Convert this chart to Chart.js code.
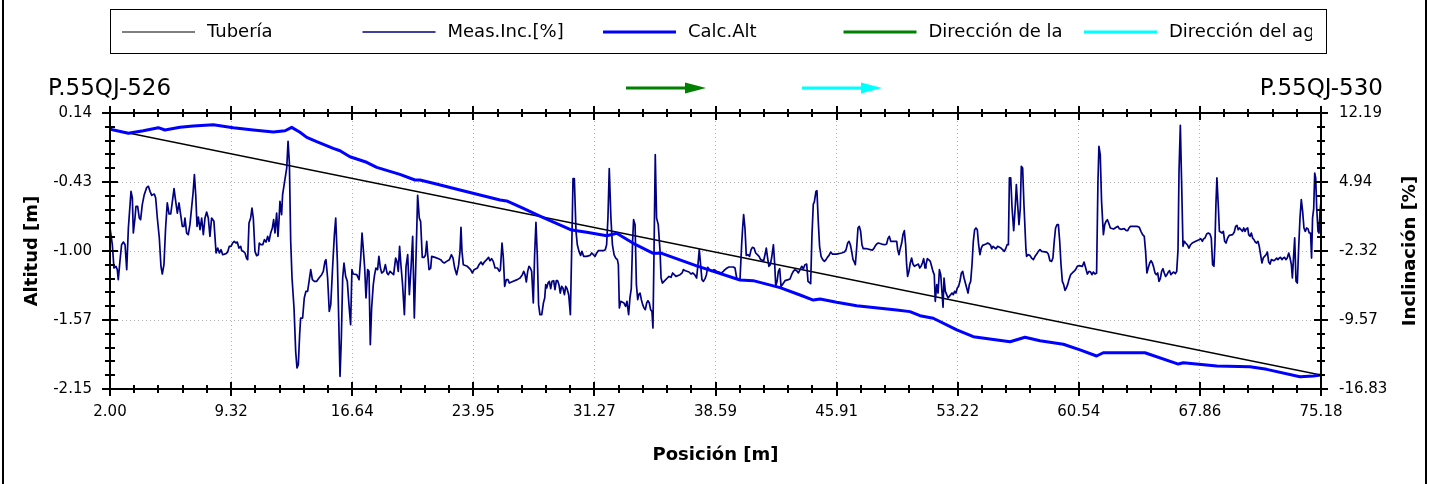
<!DOCTYPE html>
<html>
<head>
<meta charset="utf-8">
<title>Perfil de tubería</title>
<script src="https://cdn.jsdelivr.net/npm/chart.js"></script>
<style>
  body { margin: 0; background: #fff; }
  canvas { display: block; }
</style>
</head>
<body>
<canvas id="perfilChart" width="1434" height="484"></canvas>
<script>
// etiquetas de los ejes
const posTicks = ['2.00', '9.32', '16.64', '23.95', '31.27', '38.59', '45.91', '53.22', '60.54', '67.86', '75.18'];
const altTicks = ['-2.15', '-1.57', '-1.00', '-0.43', '0.14'];
const incTicks = ['-16.83', '-9.57', '-2.32', '4.94', '12.19'];

// tubería (recta entre pozos)
const tuberiaPos = [2.00, 75.18];
const tuberiaAlt = [0.005, -2.034];

// altitud calculada [m]
const altPos = [2.00, 3.11, 4.01, 4.92, 5.32, 6.23, 7.03, 8.24, 9.45, 10.66, 11.87, 12.58, 12.98, 13.48, 13.89, 14.49, 15.49, 15.90, 16.50, 17.51,
  18.12, 19.52, 20.43, 20.73, 21.54, 23.15, 24.36, 25.57, 25.97, 26.98, 27.98, 29.90, 30.81, 32.02, 32.62, 33.62, 34.83, 35.34, 37.45, 40.07,
  40.87, 42.49, 43.70, 44.50, 44.91, 45.91, 47.12, 49.54, 50.34, 50.95, 51.75, 53.17, 54.17, 56.39, 57.29, 58.20, 59.61, 60.62, 61.62, 62.02,
  64.54, 66.56, 66.86, 68.88, 70.89, 71.90, 73.91, 74.72, 75.18];
const altCalc = [0.005, -0.028, -0.007, 0.018, -0.001, 0.021, 0.032, 0.043, 0.018, -0.001, -0.018, -0.007, 0.021, -0.020, -0.062, -0.098, -0.153, -0.173, -0.223, -0.269,
  -0.311, -0.369, -0.416, -0.416, -0.443, -0.499, -0.540, -0.582, -0.590, -0.651, -0.715, -0.831, -0.850, -0.878, -0.858, -0.941, -1.024, -1.024, -1.129, -1.246,
  -1.251, -1.309, -1.370, -1.412, -1.403, -1.431, -1.459, -1.494, -1.508, -1.542, -1.563, -1.660, -1.716, -1.758, -1.721, -1.749, -1.779, -1.826, -1.876, -1.849,
  -1.849, -1.943, -1.932, -1.959, -1.965, -1.987, -2.048, -2.042, -2.034];

// inclinación medida [%]
const incPos = [
  2.00, 2.14, 2.24, 2.36, 2.44, 2.50, 2.60, 2.70, 2.81, 2.91, 3.01, 3.11, 3.27, 3.35, 3.41, 3.51, 3.57, 3.67, 3.77, 3.85,
  3.95, 4.07, 4.22, 4.32, 4.42, 4.52, 4.68, 4.76, 4.86, 4.98, 5.08, 5.16, 5.26, 5.36, 5.46, 5.57, 5.67, 5.77, 5.87, 5.97,
  6.07, 6.17, 6.27, 6.37, 6.47, 6.53, 6.63, 6.73, 6.83, 6.93, 7.02, 7.10, 7.18, 7.26, 7.34, 7.44, 7.54, 7.64, 7.74, 7.84,
  7.94, 8.04, 8.14, 8.28, 8.41, 8.51, 8.61, 8.71, 8.81, 9.01, 9.11, 9.21, 9.31, 9.41, 9.51, 9.61, 9.69, 9.79, 9.90, 9.96,
  10.06, 10.16, 10.26, 10.32, 10.40, 10.50, 10.58, 10.66, 10.76, 10.86, 10.96, 11.02, 11.12, 11.23, 11.33, 11.43, 11.53, 11.61, 11.71, 11.81,
  11.89, 11.97, 12.07, 12.15, 12.21, 12.27, 12.37, 12.43, 12.57, 12.68, 12.76, 12.84, 12.92, 13.00, 13.12, 13.22, 13.30, 13.38, 13.46, 13.52,
  13.64, 13.74, 13.84, 13.94, 14.03, 14.13, 14.23, 14.35, 14.49, 14.63, 14.79, 14.89, 14.99, 15.05, 15.15, 15.25, 15.34, 15.46, 15.56, 15.64,
  15.74, 15.82, 15.90, 15.98, 16.06, 16.14, 16.24, 16.34, 16.44, 16.54, 16.62, 16.70, 16.91, 17.05, 17.15, 17.23, 17.31, 17.39, 17.47, 17.57,
  17.65, 17.73, 17.81, 17.91, 17.99, 18.07, 18.17, 18.25, 18.34, 18.42, 18.54, 18.64, 18.74, 18.82, 18.92, 19.02, 19.14, 19.26, 19.34, 19.42,
  19.50, 19.58, 19.68, 19.79, 19.89, 19.99, 20.09, 20.19, 20.29, 20.39,
  20.53, 20.59, 20.69, 20.77, 20.87, 20.97, 21.06, 21.14, 21.20, 21.28, 21.38, 21.44, 21.64, 21.86, 21.98, 22.10, 22.20, 22.34, 22.51, 22.63,
  22.73, 22.83, 22.95, 23.07, 23.15, 23.21, 23.27, 23.35, 23.59, 23.79, 23.90, 24.00, 24.20, 24.30, 24.42, 24.52, 24.62, 24.76, 24.88, 24.96,
  25.06, 25.16, 25.27, 25.41, 25.53, 25.59, 25.69, 25.77, 25.85, 25.95, 26.05, 26.13, 26.37, 26.61, 26.78, 26.92, 27.00, 27.08, 27.16, 27.24,
  27.32, 27.40, 27.48, 27.58, 27.66, 27.74, 27.82, 27.90, 27.98, 28.09, 28.19, 28.27, 28.33, 28.39, 28.47, 28.55, 28.63, 28.71, 28.81, 28.89,
  28.97, 29.05, 29.13, 29.21, 29.29, 29.37, 29.46, 29.54, 29.62, 29.72, 29.82, 29.92, 29.98, 30.06, 30.16, 30.24, 30.34, 30.44, 30.52, 30.62,
  30.80, 31.01, 31.11, 31.21, 31.31, 31.41, 31.51, 31.81, 31.93, 32.01, 32.09, 32.17, 32.27, 32.36, 32.46, 32.56, 32.66, 32.72, 32.78, 32.86,
  33.06, 33.16, 33.24, 33.34, 33.42, 33.50, 33.58, 33.64, 33.73, 33.81, 33.89, 33.95, 34.03, 34.11, 34.19, 34.27, 34.35, 34.43, 34.51, 34.59,
  34.67, 34.75, 34.81, 34.87, 34.95, 35.03, 35.13, 35.24, 35.30, 35.38, 35.48, 35.68, 35.78, 35.90, 36.00, 36.10, 36.20, 36.45, 36.57, 36.65,
  36.77, 36.99, 37.11, 37.21, 37.33, 37.45, 37.53, 37.61, 37.69, 37.77, 37.86, 37.96, 38.04, 38.12, 38.22, 38.36, 38.50, 38.66,
  38.96, 39.06, 39.16, 39.29, 39.41, 39.67, 39.77, 39.87, 39.97, 40.07, 40.17, 40.23, 40.29, 40.37, 40.45, 40.55, 40.65, 40.74, 40.82, 40.92,
  41.02, 41.12, 41.22, 41.32, 41.50, 41.58, 41.66, 41.74, 41.82, 41.90, 41.98, 42.09, 42.17, 42.23, 42.31, 42.39, 42.47, 42.55, 42.63, 42.79,
  42.99, 43.09, 43.19, 43.29, 43.39, 43.50, 43.60, 43.70, 43.80, 43.90, 44.00, 44.10, 44.18, 44.34, 44.42, 44.50, 44.56, 44.66, 44.72, 44.80,
  44.88, 44.97, 45.07, 45.17, 45.27, 45.35, 45.45, 45.55, 45.65, 45.91, 46.21, 46.38, 46.48, 46.58, 46.66, 46.74, 46.82, 46.90, 46.96, 47.04,
  47.12, 47.20, 47.28, 47.36, 47.44, 47.52, 47.72, 47.95, 48.07, 48.15, 48.23, 48.33, 48.43, 48.63, 48.83, 48.93, 49.01, 49.09, 49.18, 49.36,
  49.54, 49.60, 49.68, 49.74, 49.84, 49.92, 50.00, 50.08, 50.14, 50.20, 50.28, 50.36, 50.44, 50.52, 50.61, 50.77, 50.85, 50.93, 51.01, 51.09,
  51.17, 51.25, 51.31, 51.39, 51.47, 51.57, 51.65, 51.73, 51.81, 51.87, 51.96, 52.04, 52.12, 52.20, 52.28, 52.34, 52.40, 52.48, 52.56, 52.64,
  52.72, 52.88, 52.96, 53.04, 53.12, 53.20, 53.28, 53.36, 53.45, 53.53, 53.61, 53.69, 53.77, 53.85, 53.93, 54.01, 54.09, 54.17, 54.25, 54.33,
  54.41, 54.49, 54.57, 54.65, 54.73, 54.94, 55.04, 55.14, 55.22, 55.28, 55.36, 55.54, 55.64, 55.84, 55.94, 56.04, 56.12, 56.21, 56.29, 56.35,
  56.43, 56.51, 56.61, 56.71, 56.77, 56.85, 56.93, 57.01, 57.07, 57.15, 57.23,
  57.35, 57.39, 57.49, 57.59, 57.69, 57.80, 57.90, 58.00, 58.10, 58.20, 58.30, 58.60, 58.70, 58.80, 58.90, 58.98, 59.06, 59.14, 59.23, 59.31,
  59.39, 59.47, 59.55, 59.63, 59.71, 59.79, 59.87, 59.95, 60.05, 60.15, 60.25, 60.35, 60.45, 60.56, 60.76, 60.86, 60.96, 61.06, 61.16, 61.26,
  61.34, 61.42, 61.52, 61.62, 61.70, 61.76, 61.84, 61.92, 62.03, 62.11, 62.19, 62.27, 62.35, 62.45, 62.65, 62.83, 62.91, 62.99, 63.09, 63.29,
  63.40, 63.50, 63.58, 63.66, 64.06, 64.20, 64.30, 64.40, 64.50, 64.58, 64.66, 64.74, 64.83, 64.91, 64.99, 65.07, 65.15, 65.23, 65.31, 65.39,
  65.47, 65.55, 65.63, 65.71, 65.79, 65.87, 65.95, 66.03, 66.11, 66.20, 66.28, 66.38, 66.46, 66.54, 66.60, 66.68, 66.76, 66.84, 66.92, 67.00,
  67.10, 67.20, 67.30, 67.40, 67.61, 67.81, 67.91, 68.01, 68.09, 68.17, 68.27, 68.37, 68.47, 68.55, 68.63, 68.71, 68.77, 68.83, 68.89, 68.98,
  69.04, 69.20, 69.28, 69.36, 69.44, 69.54, 69.64, 69.84, 69.94, 70.02, 70.10, 70.18, 70.26, 70.35, 70.43, 70.51, 70.59, 70.67, 70.75, 70.81,
  70.89, 70.97, 71.05, 71.13, 71.21, 71.29, 71.37, 71.45, 71.53, 71.61, 71.69, 71.77, 71.86, 71.94, 72.02, 72.10, 72.18, 72.34, 72.42, 72.50,
  72.58, 72.66, 72.74, 72.82, 72.90, 72.98, 73.06, 73.14, 73.23, 73.31, 73.39, 73.45, 73.53, 73.59, 73.67, 73.75, 73.83, 73.91, 73.99, 74.07,
  74.15, 74.23, 74.31, 74.39, 74.47, 74.55, 74.61, 74.67, 74.74, 74.80, 74.86, 74.92, 75.00, 75.06, 75.12, 75.18
];
const incMeas = [
  0.10, -1.66, -4.11, -3.93, -4.28, -5.33, -3.41, -1.66, -1.38, -1.66, -4.28, 0.10, 3.95, 3.25, -0.43, 1.15, 2.38, 2.38, 1.15, 0.97,
  2.55, 3.60, 4.37, 4.48, 3.95, 3.53, 3.67, 3.25, 1.15, -0.95, -3.93, -4.74, -3.76, 0.10, 2.73, 1.57, 1.57, 2.90, 4.23, 2.90,
  1.67, 2.73, 1.50, 0.27, 0.27, 1.15, -0.43, -0.60, 0.45, 2.20, 3.78, 5.71, 3.60, 0.27, 1.25, -0.08, 1.15, -0.60, 1.15, 1.78,
  1.15, -0.78, 1.15, 0.80, -2.53, -2.01, -2.53, -2.18, -2.71, -2.60, -2.43, -1.83, -1.83, -1.48, -1.30, -1.48, -1.38, -2.01, -1.83, -2.29,
  -2.36, -2.53, -3.13, -3.23, 0.62, 1.15, 2.20, 1.15, -2.36, -2.81, -2.71, -1.48, -1.66, -1.66, -1.13, -1.38, -0.78, -1.30, -0.43, 0.10,
  0.97, -0.43, 1.67, -0.78, 0.80, 2.90, 1.50, 3.60, 5.18, 6.41, 9.21, 6.93, -1.30, -5.16, -8.31, -12.87, -14.62, -14.27, -11.12, -9.37,
  -9.37, -7.26, -6.56, -6.56, -5.51, -4.28, -5.33, -5.51, -5.51, -5.16, -4.81, -4.46, -3.41, -3.23, -5.16, -8.67, -7.96, -3.76, -0.60, 1.15,
  -3.41, -9.37, -15.50, -11.47, -5.16, -3.58, -4.99, -5.51, -7.96, -10.07, -4.28, -4.74, -4.81, -5.33, -3.06, -0.43, -2.18, -4.11, -7.26, -4.28,
  -4.46, -12.17, -8.31, -5.86, -4.81, -4.11, -4.28, -2.88, -4.11, -4.63, -4.46, -3.76, -4.63, -4.81, -4.46, -4.63, -4.81, -3.06, -3.41, -4.46,
  -1.83, -3.76, -5.86, -9.02, -3.93, -2.71, -6.91, -4.11, -0.78, -9.37,
  -0.60, 3.53, 1.15, 0.80, -2.99, -2.99, -2.78, -1.30, -2.71, -4.28, -4.11, -2.88, -2.99, -3.13, -3.23, -3.48, -3.58, -3.41, -3.23, -2.71,
  -3.06, -4.11, -4.81, -3.76, -2.36, 0.17, -2.36, -3.76, -3.93, -4.28, -4.63, -4.28, -4.11, -3.76, -3.48, -3.76, -3.48, -3.23, -2.99, -3.34,
  -3.13, -3.41, -4.11, -4.11, -4.46, -4.28, -1.48, -3.06, -6.04, -5.33, -5.33, -5.69, -5.51, -5.33, -5.16, -4.81, -4.46, -4.81, -5.58, -4.46,
  -3.93, -4.11, -4.46, -7.79, -2.71, 0.69, -2.71, -7.96, -9.02, -9.02, -7.79, -7.26, -5.86, -6.21, -5.69, -5.51, -6.28, -5.51, -5.44, -6.39,
  -5.44, -5.44, -5.86, -6.74, -6.04, -6.21, -6.91, -6.04, -6.28, -6.91, -9.02, -0.43, 5.28, 5.28, -0.25, -1.66, -2.36, -2.78, -2.36, -2.88,
  -2.88, -2.78, -2.53, -2.71, -2.88, -2.53, -2.29, -2.29, -2.18, -1.66, 1.15, 6.34, 1.15, -1.66, -2.71, -3.06, -3.23, -3.76, -8.31, -7.61,
  -7.79, -8.14, -7.61, -9.02, -7.26, -6.28, -1.30, 0.97, 0.45, -5.86, -7.44, -6.91, -6.74, -7.44, -7.96, -8.31, -8.49, -7.79, -7.54, -7.79,
  -8.49, -8.67, -10.42, -3.06, 7.81, 1.15, 0.45, -2.36, -5.16, -5.69, -5.51, -5.16, -4.99, -5.09, -4.63, -4.81, -4.99, -4.81, -4.63, -4.28,
  -4.39, -4.53, -4.74, -4.63, -4.81, -5.16, -3.76, -2.18, -3.76, -5.33, -5.51, -5.23, -4.81, -4.04, -4.28, -4.46, -4.28, -4.46,
  -4.63, -4.46, -4.28, -4.11, -4.00, -4.00, -4.11, -5.16, -5.33, -5.33, -1.66, 0.10, 1.50, 0.10, -2.78, -2.71, -2.88, -2.18, -1.94, -2.01,
  -2.53, -2.71, -2.88, -3.23, -3.34, -2.71, -2.01, -3.06, -3.93, -3.76, -3.06, -1.66, -3.76, -6.04, -5.51, -4.46, -4.18, -6.04, -5.86, -5.44,
  -5.33, -5.26, -4.81, -4.46, -4.28, -4.39, -4.63, -4.28, -3.93, -4.18, -3.76, -3.69, -5.51, -5.76, -0.60, 2.62, 2.83, 3.95, 4.02, 0.80,
  -1.83, -2.88, -3.23, -3.41, -3.23, -2.99, -2.78, -2.43, -2.64, -2.64, -2.53, -2.43, -2.18, -1.48, -1.30, -1.66, -2.36, -3.23, -3.41, -3.76,
  -2.01, 0.10, 0.27, -0.25, -1.66, -2.08, -2.08, -2.18, -2.22, -2.08, -1.83, -1.59, -1.48, -1.59, -1.66, -1.59, -1.02, -0.78, -1.30, -1.30,
  -1.30, -2.18, -2.71, -2.18, -1.48, -0.60, -0.18, -1.66, -3.76, -4.99, -4.46, -3.58, -3.06, -3.69, -3.93, -3.76, -3.69, -4.11, -3.93, -3.58,
  -3.13, -4.11, -3.76, -3.13, -3.23, -3.41, -3.93, -4.46, -4.81, -7.61, -5.86, -6.74, -4.28, -4.81, -6.74, -8.24, -5.16, -6.56, -6.91, -7.26,
  -7.09, -6.74, -6.91, -6.56, -6.74, -6.21, -6.04, -5.51, -4.63, -4.46, -5.16, -5.69, -6.21, -6.74, -5.86, -5.51, -3.76, -1.30, -0.08, 0.10,
  -0.08, -1.66, -2.71, -2.01, -1.73, -1.59, -1.48, -1.59, -1.73, -2.08, -1.83, -2.08, -1.83, -2.01, -2.18, -2.36, -2.11, -1.66, -1.66, 5.36,
  5.36, 2.20, -0.18, 2.55, 4.65, 2.55, 0.45, 2.20, 6.58, 6.41, 2.55,
  -2.18, -2.88, -2.71, -2.78, -3.06, -3.23, -2.88, -2.64, -2.36, -2.18, -2.36, -2.43, -2.64, -3.34, -3.41, -3.06, -1.30, 0.10, 0.45, 0.45,
  -1.30, -3.76, -5.51, -5.86, -6.46, -6.21, -5.86, -5.33, -4.81, -4.63, -4.46, -4.28, -3.93, -3.86, -3.93, -3.48, -4.11, -4.74, -4.46, -4.53,
  -4.81, -4.53, -4.74, -4.63, 4.83, 8.68, 7.81, 2.90, -0.60, 0.45, 0.80, 0.97, 0.62, 0.10, -0.01, 0.20, 0.27, 0.03, -0.04, 0.03,
  -0.15, -0.18, 0.10, 0.27, 0.27, 0.17, -0.25, -0.60, -0.78, -2.36, -4.63, -4.11, -3.58, -3.34, -3.58, -4.04, -4.63, -4.81, -4.63, -5.51,
  -5.23, -4.46, -4.18, -4.63, -4.99, -4.81, -4.53, -4.39, -4.81, -4.63, -4.53, -4.70, -4.46, -2.18, 6.06, 10.89, 4.65, -1.83, -1.30, -1.48,
  -1.66, -2.01, -1.66, -1.48, -1.30, -1.13, -1.02, -1.30, -1.02, -0.95, -0.53, -0.43, -0.53, -0.95, -3.76, -3.93, -1.66, 2.55, 5.36, 2.20,
  -0.25, -0.43, -0.25, -1.30, -1.48, -0.95, -0.67, -0.60, -0.32, 0.27, 0.38, -0.08, 0.10, -0.08, -0.25, 0.10, -0.25, 0.03, 0.10, -0.60,
  -0.78, -0.43, -0.95, -1.13, -1.38, -1.48, -1.30, -1.83, -2.71, -3.58, -3.06, -2.88, -2.71, -2.43, -3.48, -3.69, -3.23, -3.34, -3.23, -3.06,
  -3.23, -3.06, -2.99, -3.23, -3.06, -2.99, -3.23, -3.06, -2.53, -3.06, -3.76, -5.16, -2.71, -0.95, -5.51, -5.69, -2.01, 1.15, 3.08, 1.85,
  0.10, -0.25, 0.10, 0.03, -0.43, -0.43, -3.06, 1.15, 2.13, 5.88, 5.36, 2.20, -0.25, -0.43, 1.85, 2.90
];

// flechas de dirección
const flechas = ['Dirección de la', 'Dirección del agua'];
const coloresFlecha = ['#008000', '#00ffff'];
const pozoInicio = 'P.55QJ-526';
const pozoFin = 'P.55QJ-530';

Chart.defaults.font.family = "'DejaVu Sans', sans-serif";
Chart.defaults.font.size = 15;
Chart.defaults.color = '#000';

function puntos(xs, ys) {
    const n = Math.min(xs.length, ys.length);
    const out = [];
    for (let i = 0; i < n; i++) out.push({ x: xs[i], y: ys[i] });
    return out;
}

// marcas uniformes en las posiciones de las etiquetas
function ticksUniformes(etiquetas) {
    return function(scale) {
        const n = etiquetas.length - 1;
        scale.ticks = etiquetas.map((t, i) => ({ value: scale.min + (scale.max - scale.min) * i / n }));
    };
}

function linea(ctx, x1, y1, x2, y2) {
    ctx.beginPath();
    ctx.moveTo(x1, y1);
    ctx.lineTo(x2, y2);
    ctx.stroke();
}

function marcas(scale, divisiones, dibujar) {
    const pasos = divisiones * 5;
    for (let i = 0; i <= pasos; i++) {
        const v = scale.min + (scale.max - scale.min) * i / pasos;
        dibujar(Math.round(scale.getPixelForValue(v)), i % 5 === 0);
    }
}

function flecha(ctx, x1, x2, y, color) {
    ctx.strokeStyle = color;
    ctx.fillStyle = color;
    ctx.lineWidth = 3;
    linea(ctx, x1, y, x2 - 18, y);
    ctx.beginPath();
    ctx.moveTo(x2, y);
    ctx.lineTo(x2 - 21, y - 5.5);
    ctx.lineTo(x2 - 21, y + 5.5);
    ctx.closePath();
    ctx.fill();
}

const decoracion = {
    id: 'decoracion',
    beforeDraw(chart) {
        const ctx = chart.ctx;
        ctx.save();
        ctx.fillStyle = '#fff';
        ctx.fillRect(0, 0, chart.width, chart.height);
        ctx.restore();
    },
    afterDraw(chart) {
        const { ctx, chartArea: a, scales } = chart;
        ctx.save();

        // marco exterior
        ctx.fillStyle = '#000';
        ctx.fillRect(2, 0, 2, chart.height);
        ctx.fillRect(1425, 0, 2, chart.height);

        // recuadro del área de trazado
        ctx.strokeStyle = '#000';
        ctx.lineWidth = 2;
        ctx.strokeRect(a.left, a.top, a.right - a.left, a.bottom - a.top);

        // marcas mayores y menores que cruzan los ejes
        ctx.lineWidth = 2;
        marcas(scales.x, posTicks.length - 1, (p, mayor) => {
            const l = mayor ? 7 : 4;
            linea(ctx, p, a.bottom - l, p, a.bottom + l);
            linea(ctx, p, a.top - l, p, a.top + l);
        });
        marcas(scales.yAlt, altTicks.length - 1, (p, mayor) => {
            const l = mayor ? 8 : 5;
            linea(ctx, a.left - l, p, a.left + l, p);
        });
        marcas(scales.yInc, incTicks.length - 1, (p, mayor) => {
            const l = mayor ? 7 : 4;
            linea(ctx, a.right - l, p, a.right + l, p);
        });

        // títulos de los ejes
        ctx.fillStyle = '#000';
        ctx.font = "bold 18px 'DejaVu Sans'";
        ctx.textAlign = 'center';
        ctx.textBaseline = 'middle';
        ctx.fillText('Posición [m]', (a.left + a.right) / 2, 455);
        ctx.save();
        ctx.translate(32, (a.top + a.bottom) / 2);
        ctx.rotate(-Math.PI / 2);
        ctx.fillText('Altitud [m]', 0, 0);
        ctx.restore();
        ctx.save();
        ctx.translate(1410, (a.top + a.bottom) / 2);
        ctx.rotate(-Math.PI / 2);
        ctx.fillText('Inclinación [%]', 0, 0);
        ctx.restore();

        // pozos
        ctx.font = "23px 'DejaVu Sans'";
        ctx.textBaseline = 'alphabetic';
        ctx.textAlign = 'left';
        ctx.fillText(pozoInicio, 48, 95);
        ctx.textAlign = 'right';
        ctx.fillText(pozoFin, 1383, 95);

        // flechas de dirección
        flechas.forEach((t, i) => flecha(ctx, 626 + i * 176, 706 + i * 176, 88, coloresFlecha[i]));

        // leyenda
        const items = chart.data.datasets.map(d => ({ texto: d.label, color: d.borderColor, ancho: d.legendWidth }))
            .concat(flechas.map((t, i) => ({ texto: t, color: coloresFlecha[i], ancho: 3 })));
        ctx.strokeStyle = '#000';
        ctx.lineWidth = 1;
        ctx.strokeRect(110.5, 9.5, 1216, 44);
        ctx.save();
        ctx.beginPath();
        ctx.rect(111, 10, 1201, 43);
        ctx.clip();
        ctx.font = "18px 'DejaVu Sans'";
        ctx.textAlign = 'left';
        ctx.textBaseline = 'middle';
        items.forEach((it, i) => {
            const x0 = 122 + i * 240.5;
            ctx.strokeStyle = it.color;
            ctx.lineWidth = it.ancho;
            linea(ctx, x0, 32, x0 + 73, 32);
            ctx.fillStyle = '#000';
            ctx.fillText(it.texto, x0 + 85, 32);
        });
        ctx.restore();

        ctx.restore();
    }
};

const ctx = document.getElementById('perfilChart').getContext('2d');
new Chart(ctx, {
    type: 'line',
    data: {
        datasets: [
            {
                label: 'Tubería',
                data: puntos(tuberiaPos, tuberiaAlt),
                yAxisID: 'yAlt',
                borderColor: '#000000',
                borderWidth: 1.5,
                legendWidth: 1.2,
                order: 2
            },
            {
                label: 'Meas.Inc.[%]',
                data: puntos(incPos, incMeas),
                yAxisID: 'yInc',
                borderColor: '#000080',
                borderWidth: 1.7,
                legendWidth: 1.5,
                order: 1
            },
            {
                label: 'Calc.Alt',
                data: puntos(altPos, altCalc),
                yAxisID: 'yAlt',
                borderColor: '#0000ff',
                borderWidth: 3,
                legendWidth: 3,
                order: 0
            }
        ]
    },
    options: {
        responsive: false,
        animation: false,
        layout: { padding: { top: 113, left: 0, right: 0, bottom: 0 } },
        elements: {
            point: { radius: 0 },
            line: { tension: 0, fill: false, borderJoinStyle: 'round' }
        },
        plugins: {
            legend: { display: false },
            tooltip: { enabled: false }
        },
        scales: {
            x: {
                type: 'linear',
                min: parseFloat(posTicks[0]),
                max: parseFloat(posTicks[posTicks.length - 1]),
                afterBuildTicks: ticksUniformes(posTicks),
                afterFit: s => { s.height = 95; },
                ticks: { autoSkip: false, maxRotation: 0, padding: 14, callback: (v, i) => posTicks[i] },
                grid: { color: '#b0b0b0', lineWidth: 1, drawTicks: false, borderDash: [1, 3] },
                border: { display: false, dash: [1, 3] }
            },
            yAlt: {
                type: 'linear',
                position: 'left',
                min: parseFloat(altTicks[0]),
                max: parseFloat(altTicks[altTicks.length - 1]),
                afterBuildTicks: ticksUniformes(altTicks),
                afterFit: s => { s.width = 110; },
                ticks: { autoSkip: false, padding: 18, callback: (v, i) => altTicks[i] },
                grid: { color: '#b0b0b0', lineWidth: 1, drawTicks: false, borderDash: [1, 3] },
                border: { display: false, dash: [1, 3] }
            },
            yInc: {
                type: 'linear',
                position: 'right',
                min: parseFloat(incTicks[0]),
                max: parseFloat(incTicks[incTicks.length - 1]),
                afterBuildTicks: ticksUniformes(incTicks),
                afterFit: s => { s.width = 113; },
                ticks: { autoSkip: false, padding: 18, callback: (v, i) => incTicks[i] },
                grid: { display: false, drawTicks: false },
                border: { display: false }
            }
        }
    },
    plugins: [decoracion]
});
</script>
</body>
</html>
